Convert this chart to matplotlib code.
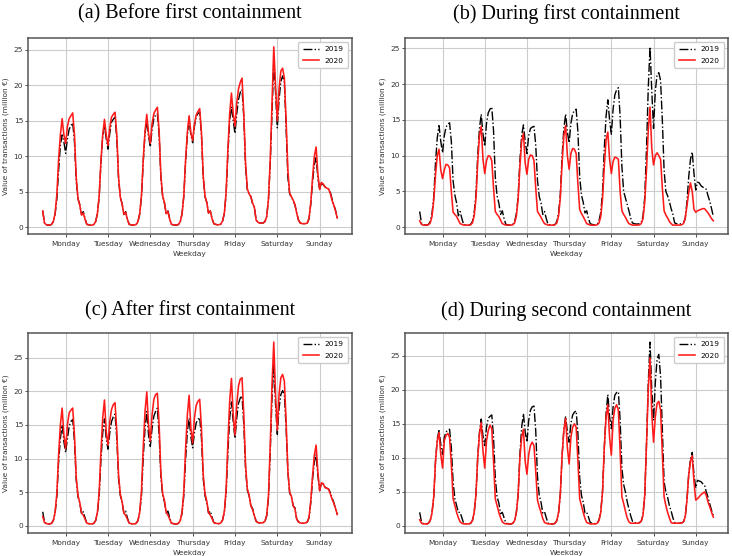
import numpy as np
import matplotlib
matplotlib.use("Agg")
import matplotlib.pyplot as plt

days = ["Monday", "Tuesday", "Wednesday", "Thursday", "Friday", "Saturday", "Sunday"]
yticks = [0, 5, 10, 15, 20, 25]
titles = ["(a) Before first containment", "(b) During first containment",
          "(c) After first containment", "(d) During second containment"]
labels = ["2019", "2020"]

# hourly values (million EUR), one row per weekday Mon..Sun
a_2019 = [
    2.3, 0.6, 0.35, 0.3, 0.3, 0.4, 0.8, 1.8, 4.0, 8.0, 11.5, 13.0, 12.0, 10.4, 12.5, 13.8, 14.3, 14.7, 12.0, 6.5, 4.0, 3.2, 1.8, 2.2,
    1.2, 0.4, 0.35, 0.3, 0.3, 0.4, 0.8, 1.9, 4.3, 9.0, 12.8, 14.3, 12.5, 11.0, 13.2, 14.8, 15.2, 15.5, 12.5, 6.8, 4.2, 3.3, 1.8, 2.2,
    1.2, 0.4, 0.35, 0.3, 0.3, 0.4, 0.8, 1.9, 4.4, 9.2, 13.2, 15.0, 12.8, 11.3, 13.8, 15.3, 15.8, 16.0, 13.0, 7.0, 4.3, 3.4, 1.9, 2.3,
    1.2, 0.4, 0.35, 0.3, 0.3, 0.4, 0.8, 1.9, 4.4, 9.2, 13.0, 15.0, 13.0, 11.9, 14.2, 15.6, 16.0, 16.2, 13.0, 7.0, 4.3, 3.5, 2.0, 2.3,
    1.2, 0.5, 0.4, 0.35, 0.35, 0.45, 0.9, 2.0, 4.8, 10.5, 15.0, 17.0, 15.0, 13.2, 16.0, 18.0, 19.0, 19.4, 15.5, 8.5, 5.3, 4.7, 4.3, 3.3,
    2.8, 1.0, 0.7, 0.6, 0.6, 0.6, 0.8, 1.5, 4.0, 9.0, 16.0, 23.3, 19.0, 14.0, 18.0, 20.5, 21.3, 20.5, 14.0, 7.0, 4.7, 4.2, 3.8, 3.1,
    2.0, 1.0, 0.6, 0.5, 0.5, 0.5, 0.6, 1.2, 3.3, 6.5, 8.8, 9.8, 7.0, 5.3, 6.2, 6.0, 5.7, 5.5, 5.4, 5.0, 4.0, 3.2, 2.4, 1.3,
]
a_2020 = [
    2.3, 0.6, 0.35, 0.3, 0.3, 0.4, 0.8, 1.9, 4.6, 9.5, 13.0, 15.3, 13.0, 11.8, 14.2, 15.3, 15.7, 16.1, 13.0, 7.0, 4.0, 3.1, 1.7, 2.0,
    1.1, 0.4, 0.35, 0.3, 0.3, 0.4, 0.8, 1.9, 4.4, 9.3, 13.0, 15.2, 13.0, 11.5, 14.0, 15.5, 15.9, 16.2, 13.0, 7.0, 4.2, 3.3, 1.8, 2.1,
    1.1, 0.4, 0.35, 0.3, 0.3, 0.4, 0.8, 1.9, 4.5, 9.6, 13.5, 15.9, 13.2, 11.8, 14.6, 16.0, 16.5, 16.9, 13.5, 7.2, 4.4, 3.5, 1.9, 2.2,
    1.1, 0.4, 0.35, 0.3, 0.3, 0.4, 0.8, 1.9, 4.5, 9.5, 13.4, 15.7, 13.3, 12.2, 14.5, 15.8, 16.3, 16.7, 13.3, 7.2, 4.4, 3.5, 2.0, 2.3,
    1.2, 0.5, 0.4, 0.35, 0.35, 0.45, 0.9, 2.0, 5.0, 11.0, 16.0, 18.9, 16.0, 14.2, 17.5, 19.5, 20.4, 21.0, 16.0, 9.0, 5.4, 4.7, 4.3, 3.4,
    2.8, 1.0, 0.7, 0.6, 0.6, 0.6, 0.8, 1.5, 4.0, 9.5, 17.5, 25.4, 20.0, 15.0, 19.5, 22.0, 22.4, 21.0, 15.0, 8.0, 4.8, 4.3, 3.8, 3.2,
    2.0, 1.0, 0.6, 0.5, 0.5, 0.5, 0.6, 1.3, 3.5, 7.0, 10.0, 11.3, 7.5, 5.3, 6.3, 6.1, 5.7, 5.5, 5.4, 4.8, 3.8, 3.1, 2.3, 1.3,
]
b_2019 = [
    2.2, 0.6, 0.35, 0.3, 0.3, 0.4, 0.8, 1.9, 4.2, 9.0, 12.5, 14.2, 12.0, 10.4, 12.8, 14.0, 14.4, 14.6, 12.0, 6.5, 4.5, 3.4, 1.6, 2.2,
    1.2, 0.4, 0.35, 0.3, 0.3, 0.4, 0.8, 2.0, 4.6, 10.0, 13.8, 15.8, 13.0, 11.3, 14.5, 16.0, 16.5, 16.8, 13.5, 7.0, 4.4, 3.4, 1.8, 2.3,
    1.2, 0.4, 0.35, 0.3, 0.3, 0.4, 0.8, 1.9, 4.3, 9.3, 12.8, 14.3, 12.0, 10.3, 12.8, 13.8, 14.0, 14.1, 11.5, 6.5, 4.3, 3.4, 1.8, 2.2,
    1.2, 0.4, 0.35, 0.3, 0.3, 0.4, 0.8, 2.0, 4.6, 10.0, 13.8, 15.8, 13.3, 11.8, 14.5, 15.9, 16.3, 16.5, 13.3, 7.0, 4.5, 3.5, 2.0, 2.3,
    1.2, 0.5, 0.4, 0.35, 0.35, 0.45, 0.9, 2.1, 5.0, 11.0, 15.5, 17.8, 15.0, 13.0, 16.5, 18.5, 19.2, 19.5, 15.5, 8.5, 5.0, 4.1, 3.2, 2.3,
    1.3, 0.6, 0.5, 0.45, 0.45, 0.5, 0.7, 1.5, 4.2, 11.0, 19.5, 25.2, 19.0, 13.8, 19.0, 21.3, 21.6, 20.5, 15.0, 8.0, 5.0, 4.4, 3.6, 2.6,
    1.8, 0.6, 0.5, 0.45, 0.45, 0.5, 0.6, 1.2, 3.5, 7.0, 9.5, 10.5, 7.5, 5.2, 6.3, 6.2, 5.8, 5.6, 5.5, 5.3, 4.4, 3.6, 2.6, 1.5,
]
b_2020 = [
    0.9, 0.4, 0.3, 0.3, 0.3, 0.35, 0.6, 1.5, 3.8, 7.3, 10.0, 10.9, 8.0, 6.8, 8.0, 8.8, 8.7, 8.3, 5.0, 2.1, 1.8, 1.5, 1.0, 0.5,
    0.4, 0.3, 0.3, 0.3, 0.3, 0.35, 0.6, 1.6, 4.0, 9.0, 12.8, 14.1, 9.5, 7.5, 9.3, 10.0, 9.9, 9.3, 5.5, 2.2, 1.8, 1.5, 1.0, 0.5,
    0.4, 0.3, 0.3, 0.3, 0.3, 0.35, 0.6, 1.6, 4.0, 8.5, 12.0, 13.1, 9.0, 7.4, 9.5, 10.1, 10.0, 9.3, 5.5, 2.2, 1.8, 1.4, 0.9, 0.5,
    0.4, 0.3, 0.3, 0.3, 0.3, 0.35, 0.6, 1.6, 4.2, 9.0, 12.8, 14.2, 10.0, 8.1, 10.3, 11.0, 10.9, 10.3, 6.0, 2.5, 1.9, 1.5, 1.0, 0.5,
    0.4, 0.3, 0.3, 0.3, 0.3, 0.35, 0.6, 1.5, 4.0, 8.5, 12.2, 13.3, 9.5, 7.5, 9.2, 9.8, 9.7, 9.5, 5.0, 2.3, 1.8, 1.4, 0.9, 0.5,
    0.4, 0.3, 0.3, 0.3, 0.3, 0.35, 0.5, 1.2, 3.5, 8.0, 13.5, 16.8, 11.0, 8.7, 10.0, 10.4, 10.0, 9.5, 5.5, 2.3, 1.7, 1.3, 0.8, 0.5,
    0.3, 0.3, 0.3, 0.3, 0.3, 0.35, 0.5, 1.2, 3.0, 4.8, 6.2, 5.0, 2.5, 2.1, 2.3, 2.4, 2.5, 2.6, 2.6, 2.3, 2.0, 1.6, 1.2, 0.9,
]
c_2019 = [
    2.1, 0.6, 0.35, 0.3, 0.3, 0.4, 0.8, 1.9, 4.4, 9.5, 13.0, 15.0, 12.5, 10.9, 13.0, 14.8, 15.5, 15.8, 12.5, 6.8, 4.3, 3.4, 1.8, 2.1,
    1.2, 0.4, 0.35, 0.3, 0.3, 0.4, 0.8, 1.9, 4.5, 9.8, 13.8, 15.9, 13.0, 11.4, 13.8, 15.5, 16.2, 16.6, 13.0, 7.0, 4.5, 3.5, 1.9, 2.2,
    1.2, 0.4, 0.35, 0.3, 0.3, 0.4, 0.8, 2.0, 4.6, 10.2, 14.5, 17.0, 13.5, 11.8, 14.5, 16.3, 17.0, 17.5, 13.5, 7.2, 4.6, 3.6, 1.9, 2.2,
    1.2, 0.4, 0.35, 0.3, 0.3, 0.4, 0.8, 1.9, 4.5, 9.8, 14.0, 16.0, 13.2, 11.6, 13.8, 15.3, 15.8, 16.1, 13.0, 7.0, 4.5, 3.5, 1.9, 2.2,
    1.3, 0.5, 0.4, 0.35, 0.35, 0.45, 0.9, 2.1, 5.0, 11.0, 16.0, 18.4, 15.5, 13.0, 16.0, 18.2, 19.0, 19.3, 15.0, 8.5, 5.3, 4.5, 3.0, 2.6,
    1.5, 0.7, 0.5, 0.45, 0.45, 0.5, 0.7, 1.5, 4.2, 11.0, 19.0, 24.0, 18.0, 13.6, 17.5, 19.5, 20.1, 19.5, 14.5, 8.0, 4.9, 4.3, 3.0, 2.7,
    1.0, 0.6, 0.45, 0.4, 0.4, 0.45, 0.6, 1.2, 3.5, 7.0, 9.5, 10.6, 7.5, 5.3, 6.3, 6.2, 5.8, 5.6, 5.5, 5.0, 4.2, 3.5, 2.6, 1.7,
]
c_2020 = [
    1.4, 0.5, 0.35, 0.3, 0.3, 0.4, 0.8, 2.0, 4.8, 10.5, 15.0, 17.5, 13.5, 11.5, 15.0, 16.8, 17.2, 17.5, 13.5, 7.2, 4.5, 3.5, 1.9, 1.6,
    1.0, 0.4, 0.35, 0.3, 0.3, 0.4, 0.8, 2.0, 5.0, 11.0, 16.0, 18.7, 14.0, 12.0, 15.5, 17.3, 18.0, 18.3, 14.0, 7.5, 4.7, 3.6, 1.9, 1.6,
    1.0, 0.4, 0.35, 0.3, 0.3, 0.4, 0.8, 2.1, 5.2, 11.8, 17.0, 19.9, 15.0, 12.6, 16.5, 18.8, 19.5, 19.7, 15.0, 7.8, 4.8, 3.8, 2.0, 1.6,
    1.0, 0.4, 0.35, 0.3, 0.3, 0.4, 0.8, 2.1, 5.1, 11.5, 16.5, 19.4, 14.5, 12.3, 16.0, 17.9, 18.5, 18.8, 14.5, 7.6, 4.8, 3.7, 2.0, 1.6,
    1.1, 0.5, 0.4, 0.35, 0.35, 0.45, 0.9, 2.2, 5.5, 12.5, 18.5, 21.9, 16.5, 13.5, 18.0, 20.8, 21.8, 22.0, 16.5, 9.0, 5.5, 4.6, 3.0, 2.4,
    1.5, 0.7, 0.5, 0.45, 0.45, 0.5, 0.7, 1.6, 4.5, 12.0, 21.0, 27.3, 19.5, 14.2, 19.5, 22.0, 22.5, 21.5, 15.5, 8.2, 5.0, 4.4, 3.0, 2.5,
    1.0, 0.6, 0.45, 0.4, 0.4, 0.45, 0.6, 1.3, 3.8, 7.5, 10.5, 12.0, 8.0, 5.2, 6.4, 6.3, 5.7, 5.6, 5.5, 4.8, 4.0, 3.4, 2.6, 1.7,
]
d_2019 = [
    2.0, 0.6, 0.35, 0.3, 0.3, 0.4, 0.8, 1.9, 4.3, 9.5, 12.8, 14.0, 12.0, 10.5, 13.0, 13.8, 14.1, 14.2, 11.5, 6.5, 4.0, 3.0, 2.0, 2.0,
    1.2, 0.4, 0.35, 0.3, 0.3, 0.4, 0.8, 2.0, 4.6, 10.0, 13.8, 15.7, 13.2, 11.8, 14.5, 15.8, 16.1, 16.3, 13.0, 7.0, 4.3, 3.4, 1.8, 2.0,
    1.2, 0.4, 0.35, 0.3, 0.3, 0.4, 0.8, 2.0, 4.7, 10.5, 14.5, 16.5, 13.8, 12.3, 15.5, 17.0, 17.5, 17.6, 14.0, 7.2, 4.5, 3.5, 1.9, 2.1,
    1.2, 0.4, 0.35, 0.3, 0.3, 0.4, 0.8, 2.0, 4.7, 10.3, 14.2, 16.1, 13.8, 12.3, 15.0, 16.3, 16.7, 16.9, 13.5, 7.0, 4.5, 3.5, 1.9, 2.0,
    1.3, 0.5, 0.4, 0.35, 0.35, 0.45, 0.9, 2.1, 5.2, 11.5, 16.5, 19.3, 16.0, 14.3, 17.5, 19.2, 19.6, 19.7, 15.5, 8.5, 6.1, 5.0, 3.6, 2.5,
    1.5, 0.7, 0.5, 0.45, 0.45, 0.5, 0.7, 1.6, 4.5, 12.0, 21.0, 27.0, 20.0, 15.5, 21.0, 24.5, 25.2, 22.0, 14.0, 6.5, 5.0, 4.2, 3.0, 2.2,
    1.2, 0.5, 0.45, 0.4, 0.4, 0.45, 0.6, 1.3, 3.8, 7.5, 9.8, 10.8, 7.5, 5.6, 6.7, 6.6, 6.5, 6.2, 6.0, 5.0, 4.2, 3.2, 2.3, 1.5,
]
d_2020 = [
    0.9, 0.4, 0.3, 0.3, 0.3, 0.4, 0.8, 1.9, 4.3, 9.5, 12.5, 13.7, 10.5, 8.5, 12.5, 13.3, 13.6, 13.0, 9.0, 4.0, 3.0, 2.0, 1.2, 0.6,
    0.4, 0.3, 0.3, 0.3, 0.3, 0.4, 0.8, 2.0, 4.6, 10.0, 13.5, 15.2, 11.0, 8.5, 12.5, 14.0, 14.8, 14.3, 9.5, 4.0, 3.0, 2.0, 1.2, 0.6,
    0.4, 0.3, 0.3, 0.3, 0.3, 0.4, 0.8, 2.0, 4.6, 10.0, 13.0, 14.2, 9.5, 7.6, 10.5, 11.8, 12.3, 11.8, 8.0, 3.8, 2.8, 2.0, 1.1, 0.5,
    0.4, 0.3, 0.3, 0.3, 0.3, 0.4, 0.8, 2.0, 4.7, 10.5, 14.0, 15.8, 11.5, 9.1, 13.0, 14.5, 15.0, 14.5, 9.5, 4.0, 3.0, 2.0, 1.1, 0.5,
    0.4, 0.3, 0.3, 0.3, 0.3, 0.4, 0.8, 2.0, 5.0, 11.5, 16.0, 17.8, 13.0, 10.4, 15.5, 17.3, 17.8, 17.0, 11.0, 4.3, 3.3, 2.2, 1.2, 0.6,
    0.4, 0.4, 0.4, 0.4, 0.4, 0.45, 0.7, 1.6, 4.5, 12.0, 20.0, 24.7, 16.5, 12.3, 16.0, 18.0, 18.3, 17.0, 10.5, 4.3, 3.0, 2.0, 1.2, 0.5,
    0.4, 0.4, 0.4, 0.4, 0.4, 0.45, 0.6, 1.3, 3.8, 7.5, 9.5, 10.3, 6.5, 3.8, 4.0, 4.3, 4.6, 4.8, 5.0, 4.5, 3.5, 2.8, 2.0, 1.3,
]

W, H = 732, 556
fig = plt.figure(figsize=(W / 100, H / 100), dpi=100)
plt.rcParams['font.family'] = ['DejaVu Sans']

boxes = [
    (28, 38, 352, 234),
    (405, 38, 728, 234),
    (28, 333, 352, 533),
    (405, 333, 728, 533),
]
title_y = [14, 14, 311, 311]
series = [(a_2019, a_2020), (b_2019, b_2020), (c_2019, c_2020), (d_2019, d_2020)]

fs = 5.3
for (x0, y0, x1, y1), ty, title, (s19, s20) in zip(boxes, title_y, titles, series):
    ax = fig.add_axes([x0 / W, 1 - y1 / H, (x1 - x0) / W, (y1 - y0) / H])
    hours = np.arange(len(s19))
    ax.plot(hours, s19, color='black', linestyle='-.', linewidth=1.0, label=labels[0])
    ax.plot(hours, s20, color='#ff1a1a', linestyle='-', linewidth=1.15, label=labels[1])
    ax.set_xticks(np.arange(len(days)) * 24 + 13)
    ax.set_xticklabels(days)
    ax.set_yticks(yticks)
    ax.grid(True, color='#cccccc', linewidth=0.8)
    ax.set_axisbelow(True)
    ax.tick_params(labelsize=fs, length=2, width=0.6, colors='#333333')
    ax.tick_params(axis='x', pad=3)
    ax.tick_params(axis='y', pad=1.5)
    ax.set_xlabel("Weekday", fontsize=fs, labelpad=3, color='#333333')
    ax.set_ylabel("Value of transactions (million €)", fontsize=fs, labelpad=3, color='#333333')
    for sp in ax.spines.values():
        sp.set_color('#555555')
        sp.set_linewidth(1.1)
    ax.legend(loc='upper right', fontsize=fs, handlelength=2.2, borderpad=0.6,
              labelspacing=0.7, framealpha=1, edgecolor='#cccccc')
    fig.text((x0 + x1) / 2 / W, 1 - ty / H, title, ha='center', va='center',
             fontsize=14.5, family='Liberation Serif')

fig.savefig("out.png", dpi=100)
